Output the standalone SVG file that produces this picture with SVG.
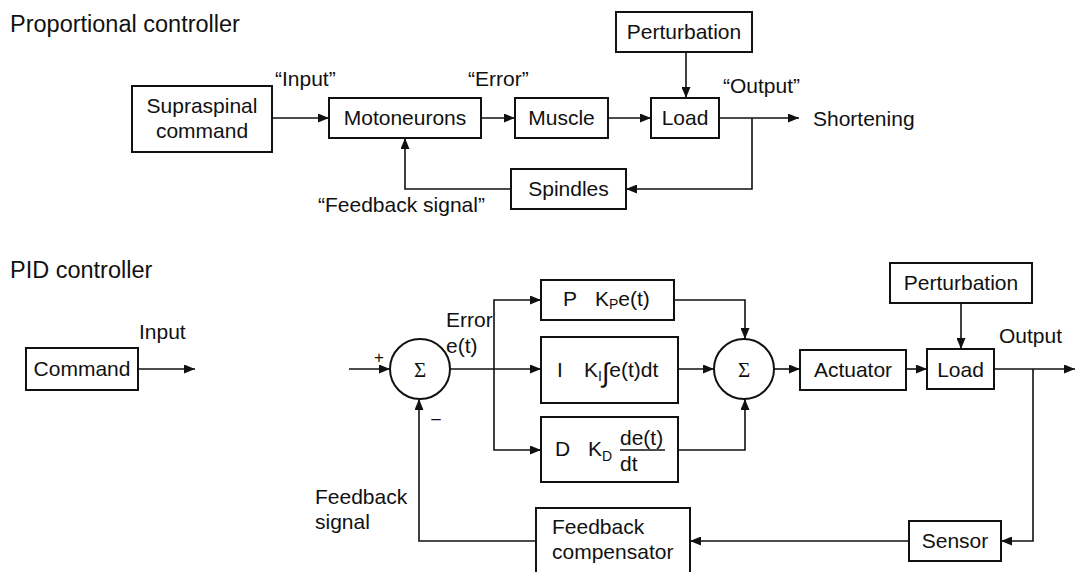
<svg xmlns="http://www.w3.org/2000/svg" width="1076" height="572" viewBox="0 0 1076 572">
<style>
text{font-family:"Liberation Sans",Arial,sans-serif;font-size:21px;fill:#111}
.t{font-size:23.5px}
.c{text-anchor:middle}
.box{fill:#fff;stroke:#111;stroke-width:2}
.ln{fill:none;stroke:#111;stroke-width:1.6}
.sig{font-family:"Liberation Serif","Times New Roman",serif;font-size:21px}
.sub{font-size:14px}
</style>
<defs>
<marker id="ah" markerUnits="userSpaceOnUse" markerWidth="11" markerHeight="9" refX="11" refY="4.5" orient="auto">
<path d="M0,0 L11,4.5 L0,9 z" fill="#111"/>
</marker>
</defs>
<rect width="1076" height="572" fill="#fff"/>

<text class="t" x="10" y="32">Proportional controller</text>
<text class="t" x="10" y="278">PID controller</text>

<g id="connectors" class="ln" marker-end="url(#ah)">
<path d="M272,118 H329"/>
<path d="M481,118 H515"/>
<path d="M608,118 H651"/>
<path d="M686,52 V98"/>
<path d="M719,118 H799"/>
<path d="M752,118 V189 H626"/>
<path d="M511,189 H405 V138"/>
<path d="M138,369 H195"/>
<path d="M349,369 H390"/>
<path d="M450,369 H541"/>
<path d="M494,369 V300 H541"/>
<path d="M494,369 V450 H541"/>
<path d="M674,300 H745 V339"/>
<path d="M678,369 H714"/>
<path d="M678,450 H745 V399"/>
<path d="M774,369 H800"/>
<path d="M906,369 H927"/>
<path d="M961,303 V349"/>
<path d="M994,369 H1075"/>
<path d="M1033,369 V541 H1001"/>
<path d="M909,541 H690"/>
<path d="M536,541 H419 V399"/>
</g>

<g id="supraspinal"><rect class="box" x="132" y="86" width="140" height="66"/><text class="c" x="202" y="113">Supraspinal</text><text class="c" x="202" y="138">command</text></g>
<g id="motoneurons"><rect class="box" x="329" y="98" width="152" height="40"/><text class="c" x="405" y="125">Motoneurons</text></g>
<g id="muscle"><rect class="box" x="515" y="98" width="93" height="40"/><text class="c" x="561.5" y="125">Muscle</text></g>
<g id="load1"><rect class="box" x="651" y="98" width="68" height="40"/><text class="c" x="685" y="125">Load</text></g>
<g id="perturbation1"><rect class="box" x="616" y="12" width="136" height="40"/><text class="c" x="684" y="39">Perturbation</text></g>
<g id="spindles"><rect class="box" x="511" y="169" width="115" height="40"/><text class="c" x="568.5" y="196">Spindles</text></g>
<g id="labels1">
<text x="275" y="86">“Input”</text>
<text x="468" y="86">“Error”</text>
<text x="723" y="93">“Output”</text>
<text x="813" y="126">Shortening</text>
<text x="318" y="212">“Feedback signal”</text>
</g>

<g id="command"><rect class="box" x="26" y="348" width="112" height="42"/><text class="c" x="82" y="376">Command</text></g>
<g id="sum1"><circle class="box" cx="420" cy="369" r="30"/><text class="sig c" x="420" y="377">Σ</text></g>
<g id="pblock"><rect class="box" x="541" y="280" width="133" height="40"/><text x="563" y="306">P</text><text x="595" y="306">K<tspan class="sub" dy="3">P</tspan><tspan dy="-3">e(t)</tspan></text></g>
<g id="iblock"><rect class="box" x="541" y="337" width="137" height="66"/><text x="557" y="377">I</text><text x="584" y="377">K<tspan class="sub" dy="4">I</tspan><tspan dy="1" font-size="27">∫</tspan><tspan dy="-5">e(t)dt</tspan></text></g>
<g id="dblock"><rect class="box" x="541" y="417" width="137" height="65"/><text x="555" y="456">D</text><text x="588" y="456">K<tspan class="sub" dy="5">D</tspan></text><text x="620" y="445">de(t)</text><line x1="620" y1="450" x2="665" y2="450" stroke="#111" stroke-width="1.6"/><text x="620" y="471">dt</text></g>
<g id="sum2"><circle class="box" cx="744" cy="369" r="30"/><text class="sig c" x="744" y="377">Σ</text></g>
<g id="actuator"><rect class="box" x="800" y="350" width="106" height="40"/><text class="c" x="853" y="377">Actuator</text></g>
<g id="load2"><rect class="box" x="927" y="349" width="67" height="40"/><text class="c" x="960.5" y="377">Load</text></g>
<g id="perturbation2"><rect class="box" x="890" y="263" width="142" height="40"/><text class="c" x="961" y="290">Perturbation</text></g>
<g id="sensor"><rect class="box" x="909" y="521" width="92" height="40"/><text class="c" x="955" y="548">Sensor</text></g>
<g id="compensator"><rect class="box" x="536" y="508" width="154" height="72"/><text x="552" y="534">Feedback</text><text x="552" y="559">compensator</text></g>
<g id="labels2">
<text x="139" y="339">Input</text>
<text x="379" y="363" class="c" style="font-size:17px">+</text>
<text x="436" y="424" class="c" style="font-size:17px">–</text>
<text x="446" y="327">Error</text>
<text x="446" y="353">e(t)</text>
<text x="999" y="343">Output</text>
<text x="315" y="504">Feedback</text>
<text x="315" y="529">signal</text>
</g>
</svg>
